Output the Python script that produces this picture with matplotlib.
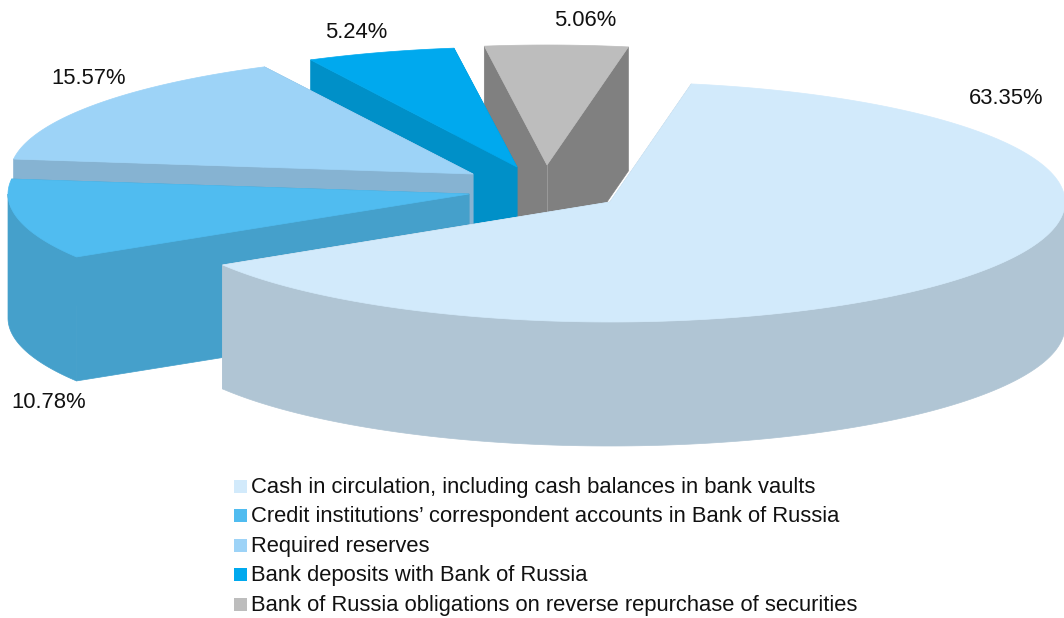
import numpy as np
import matplotlib
matplotlib.use("Agg")
import matplotlib.pyplot as plt
from matplotlib.patches import Polygon, Rectangle

categories = [
    "Cash in circulation, including cash balances in bank vaults",
    "Credit institutions\u2019 correspondent accounts in Bank of Russia",
    "Required reserves",
    "Bank deposits with Bank of Russia",
    "Bank of Russia obligations on reverse repurchase of securities",
]
values = [63.35, 10.78, 15.57, 5.24, 5.06]
top_colors = ["#d2eafb", "#50bcf0", "#9dd3f7", "#00a9ee", "#bdbdbd"]
side_colors = ["#b0c5d4", "#45a0cb", "#86b3d2", "#0090c8", "#808080"]
apexes = [(610, 202), (469, 194), (473, 174), (517, 167), (547, 165)]
radii_x = [455, 461, 463, 458, 455]
label_pos = [(1006, 98), (49, 403), (89, 78), (356, 32), (585, 21)]
legend_y = [487, 516, 546, 575, 605]

RY, DEPTH, START = 120, 124, 79.7
plt.rcParams['font.family'] = ['Liberation Sans', 'DejaVu Sans']

fig = plt.figure(figsize=(10.64, 6.18), dpi=100)
ax = fig.add_axes([0, 0, 1, 1])
ax.set_xlim(0, 1064)
ax.set_ylim(618, 0)
ax.axis('off')


def rim(c, rx, t):
    t = np.radians(t)
    return np.column_stack([c[0] + rx * np.cos(t), c[1] - RY * np.sin(t)])


ends = START - np.cumsum(values) * 3.6
starts = np.concatenate([[START], ends[:-1]])

for i in range(len(values) - 1, -1, -1):
    c, rx, t0, t1 = apexes[i], radii_x[i], starts[i], ends[i]
    z = i * -2 + 20
    for t in (t0, t1):
        p = rim(c, rx, [t])[0]
        ax.add_patch(Polygon([c, p, p + [0, DEPTH], np.array(c) + [0, DEPTH]],
                             fc=side_colors[i], ec=side_colors[i], lw=0.5, zorder=z))
    # outer wall: the part of the rim that faces the viewer
    if t1 < 0:
        lo, hi = max(t1, -180), min(t0, 0)
        if hi > lo:
            a = rim(c, rx, np.linspace(lo, hi, 120))
            ax.add_patch(Polygon(np.vstack([a, a[::-1] + [0, DEPTH]]), fc=side_colors[i],
                                 ec=side_colors[i], lw=0.5, zorder=z))
    # seam where the two cut faces of the last slice meet
    if i == len(values) - 1:
        ax.plot([c[0], c[0]], [c[1], c[1] + DEPTH], color=top_colors[i], lw=0.6,
                alpha=0.5, zorder=z)
    arc = rim(c, rx, np.linspace(t0, t1, 200))
    ax.add_patch(Polygon(np.vstack([[c], arc]), fc=top_colors[i], ec=top_colors[i],
                         lw=0.5, zorder=z + 1))
    ax.text(label_pos[i][0], label_pos[i][1], f"{values[i]:.2f}%", fontsize=15.8,
            ha='center', va='center', color='#111111', zorder=40)

for i, cat in enumerate(categories):
    y = legend_y[i]
    ax.add_patch(Rectangle((234, y - 7), 13, 13, fc=top_colors[i], ec='none', zorder=40))
    ax.text(251, y + 0.5, cat, fontsize=15.8, ha='left', va='center', color='#111111', zorder=40)

fig.savefig("out.png", dpi=100)
